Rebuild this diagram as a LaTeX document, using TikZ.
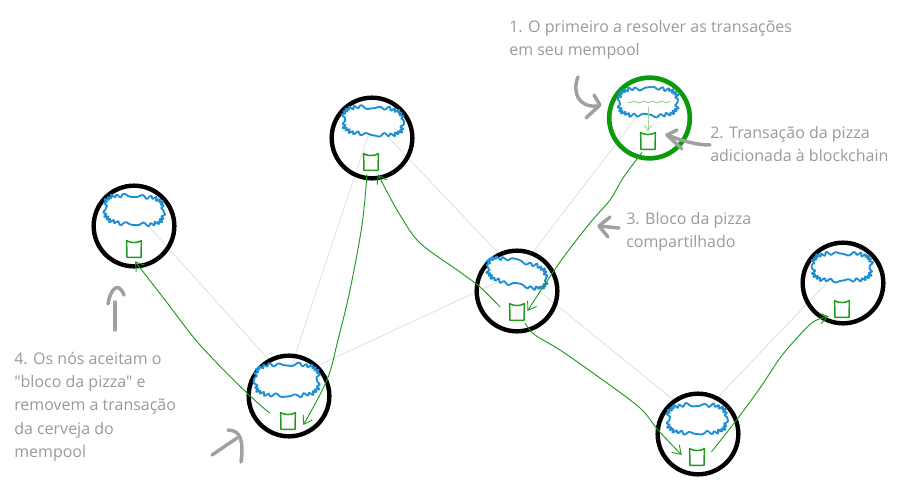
\documentclass[tikz,border=0pt]{standalone}
\usepackage{fontspec}
\setmainfont{Open Sans}
\newfontfamily\capfont{Open Sans}
\usetikzlibrary{arrows.meta}
\definecolor{ringgreen}{HTML}{0A9A0A}
\definecolor{linegreen}{HTML}{1E9A1E}
\definecolor{paleg}{HTML}{9AD89A}
\definecolor{cloudblue}{HTML}{1E8FD5}
\definecolor{softgray}{HTML}{E2E2E2}
\definecolor{notegray}{HTML}{A0A0A0}
\definecolor{textgray}{HTML}{9A9A9A}
% name, x, y, half width, half height, phase, tilt
\newcommand{\cloudat}[7]{%
  \node[puffbox] (#1) at (#2,#3) {};
  \draw[puff,shift={(#1)}] plot[smooth,domain=0.37:360.37,samples=361,variable=\t]
   ({(#4)*cos(\t)/pow(abs(cos(\t)),0.45)+(1.5*sin(25*\t+#6)+0.5*sin(11*\t+2*#6))*cos(\t)},
    {(#5)*sin(\t)/pow(abs(sin(\t)),0.45)+(1.5*sin(25*\t+#6)+0.5*sin(11*\t+2*#6))*sin(\t)
      +#7*(#4)*cos(\t)/pow(abs(cos(\t)),0.45)}) -- cycle;}
\newcommand{\blockat}[3]{%
  \node[blockbox] (#1) at (#2,#3) {};
  \draw[blockline] (#1.north west) .. controls +(4,2.5) and +(-4,2.5) .. (#1.north east)
     -- ([xshift=-0.2pt]#1.south east) -- ([xshift=0.2pt]#1.south west) -- cycle;}
\tikzset{
  x=0.75pt,y=-0.75pt,
  ring/.style={circle,draw=black,line width=3.3pt,minimum size=60.5pt,inner sep=0pt},
  greenring/.style={ring,draw=ringgreen,line width=3.5pt},
  puffbox/.style={minimum width=44pt,minimum height=21pt,inner sep=0pt},
  puff/.style={draw=cloudblue,fill=white,line width=1.4pt,line join=round},
  blockbox/.style={minimum width=11pt,minimum height=12.5pt,inner sep=0pt,outer sep=0pt},
  blockline/.style={draw=linegreen,line width=1.1pt,line join=round},
  link/.style={softgray,line width=0.7pt},
  hop/.style={linegreen,line width=0.7pt,-{Straight Barb[length=6pt,width=8pt,line width=0.7pt]}},
  note/.style={notegray,line width=2.6pt,line cap=round,line join=round},
  caption/.style={text=textgray,font=\capfont\fontsize{12pt}{17.4pt}\selectfont,align=left,inner sep=0pt,anchor=north west}
}
\begin{document}
\begin{tikzpicture}
\useasboundingbox (0,0) rectangle (899,489);
% cloud centres
\coordinate (pa) at (134,210);
\coordinate (pb) at (373,121);
\coordinate (pc) at (648,102);
\coordinate (pd) at (517,273);
\coordinate (pe) at (842,267);
\coordinate (pf) at (287,380);
\coordinate (pg) at (697,419);
% links
\draw[link] (pa) -- (pf);
\draw[link] (pf) -- (pb);
\draw[link] (pf) -- (pd);
\draw[link] (pb) -- (pd);
\draw[link] (pd) -- (pc);
\draw[link] (pd) -- (pg);
\draw[link] (pg) -- (pe);
% rings
\node[ring] (ra) at (134,226) {};
\node[ring] (rb) at (372,138) {};
\node[greenring] (rc) at (649.5,118) {};
\node[ring] (rd) at (517,291) {};
\node[ring] (re) at (843,283) {};
\node[ring] (rf) at (289,396) {};
\node[ring] (rg) at (698,434) {};
% clouds
\cloudat{ca}{134}{210}{29}{14}{20}{0.05}
\cloudat{cb}{373}{121}{29.5}{13.5}{80}{0.05}
\cloudat{cc}{648}{102}{29}{13.5}{140}{0}
\cloudat{cd}{517}{273}{29}{12}{200}{0.2}
\cloudat{ce}{842}{267}{29}{13.5}{260}{0}
\cloudat{cf}{287}{380}{31.5}{15.5}{310}{0}
\cloudat{cg}{697}{419}{29}{14}{50}{0}
% blocks
\blockat{ba}{134}{249}
\blockat{bb}{371}{162}
\blockat{bc}{648}{141}
\blockat{bd}{517}{312}
\blockat{be}{842}{309}
\blockat{bf}{288}{421}
\blockat{bg}{697}{457}
% inner mark
\coordinate (ml) at (628,102);
\coordinate (ms) at (648,107);
\draw[paleg,line width=0.8pt,shift={(ml)}] plot[domain=0:42,samples=43,variable=\u] (\u,{0.7*sin(40*\u)});
\draw[paleg,line width=0.7pt,-{Straight Barb[length=4pt,width=5.5pt]}] (ms) -- ([yshift=1pt]bc.north);
% hops
\coordinate (h1) at ([shift={(-6,3)}]bc.south);
\coordinate (t1) at ([shift={(3,-1)}]bd.east);
\coordinate (h2) at ([shift={(-9.5,-5)}]bd.west);
\coordinate (t2) at ([shift={(7,4)}]bb.south);
\coordinate (h3) at ([shift={(-4,4)}]bb.south);
\coordinate (t3) at ([shift={(8,4)}]bf.east);
\coordinate (h4) at ([shift={(-11,-8)}]bf.west);
\coordinate (t4) at ([shift={(1,4)}]ba.south);
\coordinate (h5) at ([shift={(8,3)}]bd.south);
\coordinate (t5) at ([shift={(-8,-2)}]bg.west);
\coordinate (h6) at ([shift={(7,-5)}]bg.east);
\coordinate (t6) at ([shift={(-6,-1)}]be.south west);
\draw[hop] plot[smooth,tension=0.55] coordinates {(h1) (623,178) (610,200) (590,223) (560,262) (t1)};
\draw[hop] plot[smooth,tension=0.55] coordinates {(h2) (480,287) (460,272) (420,243) (400,215) (385,188) (t2)};
\draw[hop] plot[smooth,tension=0.55] coordinates {(h3) (362,225) (350,290) (338,340) (327,380) (t3)};
\draw[hop] plot[smooth,tension=0.55] coordinates {(h4) (247,393) (200,345) (165,300) (t4)};
\draw[hop] plot[smooth,tension=0.55] coordinates {(h5) (535,335) (560,350) (600,378) (640,408) (658,430) (t5)};
\draw[hop] plot[smooth,tension=0.55] coordinates {(h6) (735,422) (760,388) (780,358) (797,338) (813,322) (t6)};
% gray note arrows
\draw[note] (578,77) .. controls (572,92) and (578,108) .. (598,106);
\draw[note] (594,95) -- (600,105) -- (586,118);
\draw[note] (710,145) .. controls (695,145) and (680,140) .. (667,135);
\draw[note] (677,130) -- (667,135) -- (682,149);
\draw[note] (619,228) -- (599,226);
\draw[note] (610,217) -- (599,226) -- (608,237);
\draw[note] (115,330) -- (115,302);
\draw[note] (108,304) .. controls (110,290) and (118,280) .. (124,295);
\draw[note] (212,455) -- (237,438);
\draw[note] (228,430) .. controls (240,430) and (244,440) .. (241,462);
% captions
\node[caption] (n1) at (509,20) {1. O primeiro a resolver as transações\\em seu mempool};
\node[caption] (n2) at (710,126) {2. Transação da pizza\\adicionada à blockchain};
\node[caption] (n3) at (626,212) {3. Bloco da pizza\\compartilhado};
\node[caption] (n4) at (14,352) {4. Os nós aceitam o\\"bloco da pizza" e\\removem a transação\\da cerveja do\\mempool};
\end{tikzpicture}
\end{document}
